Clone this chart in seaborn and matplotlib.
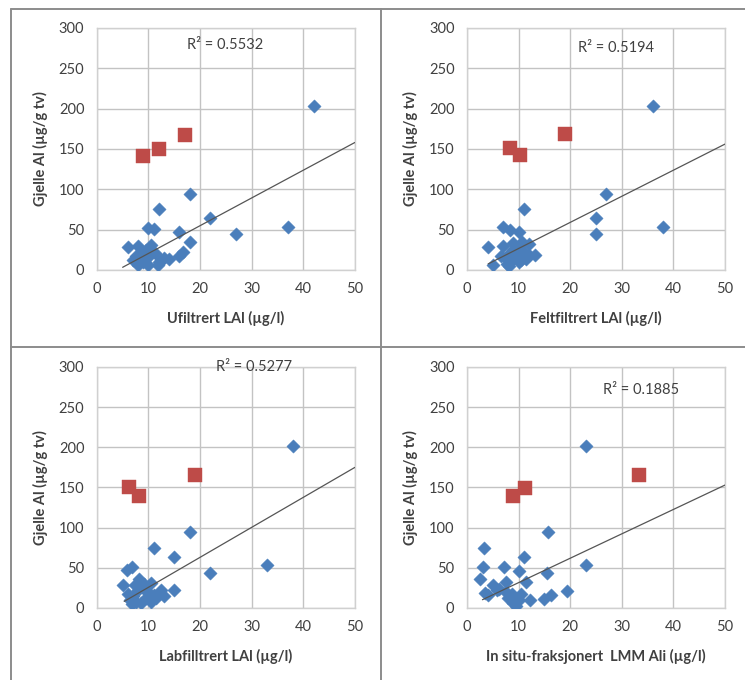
import numpy as np
import pandas as pd
import matplotlib
matplotlib.use("Agg")
import matplotlib.pyplot as plt
from matplotlib.lines import Line2D
import seaborn as sns

# values
y_label = "Gjelle Al (µg/g tv)"
x_labels = ["Ufiltrert LAl (µg/l)", "Feltfiltrert LAl (µg/l)",
            "Labfilltrert LAl (µg/l)", "In situ-fraksjonert  LMM Ali (µg/l)"]
r2_labels = ["R² = 0.5532", "R² = 0.5194", "R² = 0.5277", "R² = 0.1885"]
r2_pos_x = [24.8, 28.9, 30.4, 33.7]
r2_pos_y = [279, 275, 300, 271]

blue_x1 = [42, 18, 12, 22, 37, 27, 16, 10, 11, 18, 6, 8, 10.5, 16.6, 16, 13, 12, 10, 8, 7.6,
           8.9, 10.2, 11.2, 7, 11.8, 9, 9.5, 12.5, 14, 8.5]
blue_y1 = [203, 94, 76, 64, 53, 44, 47, 52, 51, 35, 28, 30, 31, 22, 17, 15, 10, 6, 6, 17,
           21, 17, 21, 12.5, 6, 10, 25, 12, 13, 14]
red_x1 = [9, 12, 17]
red_y1 = [141, 150, 167]
trend_x1 = [5, 50]
trend_y1 = [3.3, 158]

blue_x2 = [36, 27, 11, 25, 38, 25, 7, 8.3, 10.1, 12, 4.1, 7, 8.9, 8.3, 13.1, 5, 8.1, 10.5, 9.5, 9,
           7.5, 11, 10, 8.5, 6.5, 9.8, 11.5, 7.8, 10.6, 12]
blue_y2 = [203, 94, 76, 64, 53, 44, 53, 50, 47, 32.5, 29, 30, 33, 21, 19, 6, 5, 12.5, 19, 25,
           15, 22, 10, 11, 17, 28, 14, 8, 35, 18]
red_x2 = [8.3, 10.2, 19]
red_y2 = [151, 142, 168]
trend_x2 = [4.1, 50]
trend_y2 = [7.5, 156]

blue_x3 = [38, 18, 11, 15, 33, 22, 5.9, 6.9, 15, 5, 8.2, 10.5, 13, 6.5, 7.5, 8.5, 9.5, 10, 11, 12,
           7, 8, 9, 6, 10.5, 12.5, 7.3, 9.2, 11.5, 6.8]
blue_y3 = [202, 94, 75, 64, 53, 43, 47, 51.5, 22.7, 28, 36, 31, 14.4, 10, 8, 6, 12, 20, 16, 18,
           15, 22, 25, 18, 8, 22, 28, 30, 12, 5]
red_x3 = [6.3, 8.2, 19]
red_y3 = [150, 140, 166]
trend_x3 = [5.3, 50]
trend_y3 = [8.2, 175]

blue_x4 = [23, 15.7, 3.3, 11, 23, 3.1, 7.1, 10.1, 15.5, 2.6, 5, 7.6, 11.5, 4.1, 19.4, 16.3, 15,
           12.3, 8, 9, 8.5, 10, 6.3, 9.5, 7.5, 8.8, 10.5, 9.2, 3.5, 5.8]
blue_y4 = [202, 94, 75, 64, 53, 50.6, 51.4, 45.7, 43.6, 36, 29, 32, 32, 15.6, 20.6, 15.6, 11.5,
           9.5, 12, 6, 14, 10, 24, 3, 20, 17, 17, 9, 19, 22]
red_x4 = [9, 11.3, 33.4]
red_y4 = [140, 149, 166]
trend_x4 = [3, 50]
trend_y4 = [10.3, 153]

x_ticks = [0, 10, 20, 30, 40, 50]
y_ticks = [0, 50, 100, 150, 200, 250, 300]

panels = [
    (blue_x1, blue_y1, red_x1, red_y1, trend_x1, trend_y1),
    (blue_x2, blue_y2, red_x2, red_y2, trend_x2, trend_y2),
    (blue_x3, blue_y3, red_x3, red_y3, trend_x3, trend_y3),
    (blue_x4, blue_y4, red_x4, red_y4, trend_x4, trend_y4),
]

BLUE = "#4a7ebb"
RED = "#be4b48"
TXT = "#404040"

sns.set_theme(style="whitegrid")
plt.rcParams['font.family'] = ['Lato', 'DejaVu Sans']

fig = plt.figure(figsize=(7.45, 6.8), dpi=100)

# axes rectangles (left, bottom, width, height) in figure fraction
rects = [
    (0.130, 0.603, 0.3463, 0.3559),
    (0.6268, 0.603, 0.3463, 0.3559),
    (0.130, 0.1059, 0.3463, 0.3544),
    (0.6268, 0.1059, 0.3463, 0.3544),
]

for i, (bx, by, rx, ry, tx, ty) in enumerate(panels):
    ax = fig.add_axes(rects[i])
    blue = pd.DataFrame({"x": bx, "y": by})
    red = pd.DataFrame({"x": rx, "y": ry})
    trend = pd.DataFrame({"x": tx, "y": ty})

    sns.scatterplot(data=blue, x="x", y="y", marker="D", s=46, color=BLUE,
                    edgecolor=BLUE, linewidth=0.3, ax=ax, zorder=3)
    sns.scatterplot(data=red, x="x", y="y", marker="s", s=90, color=RED,
                    edgecolor=RED, linewidth=0.3, ax=ax, zorder=3)
    sns.lineplot(data=trend, x="x", y="y", color="#555555", linewidth=0.9, ax=ax, zorder=4)

    ax.set_xlim(0, 50)
    ax.set_ylim(0, 300)
    ax.set_xticks(x_ticks)
    ax.set_yticks(y_ticks)
    ax.grid(True, color="#c3c3c3", linewidth=1.0)
    for sp in ax.spines.values():
        sp.set_color("#d0d0d0")
        sp.set_linewidth(1.0)
    ax.tick_params(length=0, labelsize=10.5, labelcolor=TXT)
    ax.tick_params(axis="x", pad=9)
    ax.tick_params(axis="y", pad=9)

    ax.set_xlabel(x_labels[i], fontsize=10.5, fontweight="bold", color=TXT)
    ax.set_ylabel(y_label, fontsize=10.5, fontweight="bold", color=TXT)
    ax.xaxis.set_label_coords(0.5, -0.17)
    ax.yaxis.set_label_coords(-0.19, 0.5)

    ax.text(r2_pos_x[i], r2_pos_y[i], r2_labels[i], ha="center", va="center",
            fontsize=10.5, color=TXT, zorder=5)

# frame lines separating the four panels
line_kw = dict(color="#8c8c8c", linewidth=1.4, transform=fig.transFigure)
fig.add_artist(Line2D([0.0148, 0.0148], [0.0, 0.9868], **line_kw))
fig.add_artist(Line2D([0.0148, 1.0], [0.9868, 0.9868], **line_kw))
fig.add_artist(Line2D([0.5114, 0.5114], [0.0, 0.9868], **line_kw))
fig.add_artist(Line2D([0.0148, 1.0], [0.4897, 0.4897], **line_kw))

fig.savefig("out.png", dpi=100)
plt.close(fig)
